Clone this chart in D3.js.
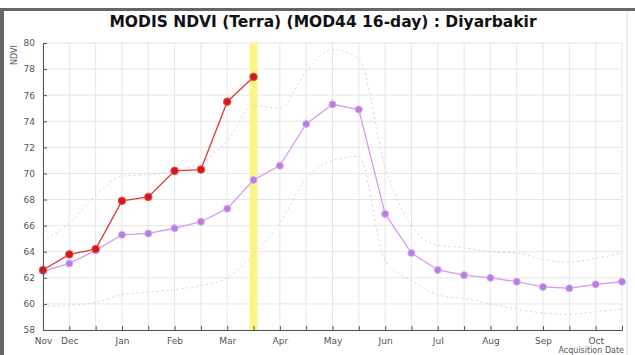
<!DOCTYPE html>
<html><head><meta charset="utf-8">
<script src="https://cdn.jsdelivr.net/npm/d3@7"></script>
<style>body{margin:0;background:#fff}svg{display:block}</style>
</head><body><svg id="c" width="635" height="355"></svg>
<script>
// 23 sixteen-day composites, Nov -> Oct
const composites = d3.range(23);
const monthLabels = ["Nov","Dec","","Jan","","Feb","","Mar","","Apr","","May","","Jun","","Jul","","Aug","","Sep","","Oct",""];
const currentYear = [62.6,63.8,64.2,67.9,68.2,70.2,70.3,75.5,77.4];
const meanNdvi = [62.5,63.1,64.1,65.3,65.4,65.8,66.3,67.3,69.5,70.6,73.8,75.3,74.9,66.9,63.9,62.6,62.2,62.0,61.7,61.3,61.2,61.5,61.7];
const upperBand = [64.8,66.2,68.3,69.8,69.9,70.2,70.8,72.5,75.2,75.0,77.8,79.5,78.8,70.5,66.0,64.5,64.3,64.0,63.9,63.4,63.2,63.5,63.9];
const lowerBand = [59.8,59.9,60.1,60.7,60.9,61.1,61.4,62.0,63.8,66.2,69.6,71.0,71.3,63.3,61.8,60.7,60.4,60.0,59.6,59.3,59.2,59.4,59.6];
const yTicks = [58,60,62,64,66,68,70,72,74,76,78,80];
const highlightIndex = 8;

const svg = d3.select("#c");
const x = d3.scaleLinear().domain([0,22]).range([43,622]);
const y = d3.scaleLinear().domain([58,80]).range([330,43]);

// frame
svg.append("rect").attr("x",0).attr("y",8).attr("width",635).attr("height",3).attr("fill","#666");
svg.append("rect").attr("x",0).attr("y",8).attr("width",4).attr("height",347).attr("fill","#666");
svg.append("line").attr("x1",627).attr("x2",627).attr("y1",11).attr("y2",355).attr("stroke","#ddd");

// title
svg.append("text").attr("x",323).attr("y",27).attr("text-anchor","middle")
  .attr("font-family","DejaVu Sans").attr("font-weight","bold").attr("font-size",15.5)
  .attr("fill","#111").text("MODIS NDVI (Terra) (MOD44 16-day) : Diyarbakir");

// grid
const g = svg.append("g");
g.selectAll(".vg").data(composites).join("line")
  .attr("x1",d=>x(d)).attr("x2",d=>x(d)).attr("y1",y(80)).attr("y2",y(58))
  .attr("stroke","#e6e6e6").attr("stroke-width",1);
g.selectAll(".hg").data(yTicks).join("line")
  .attr("x1",x(0)).attr("x2",x(22)).attr("y1",d=>y(d)).attr("y2",d=>y(d))
  .attr("stroke","#e6e6e6").attr("stroke-width",1);

// highlight bar
svg.append("rect").attr("x",x(highlightIndex)-4).attr("y",y(80)).attr("width",8)
  .attr("height",y(58)-y(80)).attr("fill","#f8f47a").attr("opacity",0.9);

// bands
const line = d3.line().x((d,i)=>x(i)).y(d=>y(d)).curve(d3.curveMonotoneX);
[upperBand,lowerBand].forEach(b=>{
  svg.append("path").attr("d",line(b)).attr("fill","none")
    .attr("stroke","#e8c6e6").attr("stroke-width",1).attr("stroke-dasharray","2,3");
});

// mean series
const lin = d3.line().x((d,i)=>x(i)).y(d=>y(d));
svg.append("path").attr("d",lin(meanNdvi)).attr("fill","none").attr("stroke","#d69cf0").attr("stroke-width",1.3);
svg.selectAll(".mp").data(meanNdvi).join("circle")
  .attr("cx",(d,i)=>x(i)).attr("cy",d=>y(d)).attr("r",3.5)
  .attr("fill","#b57ee0").attr("stroke","#d9a8f5").attr("stroke-width",1);

// current year
svg.append("path").attr("d",lin(currentYear)).attr("fill","none").attr("stroke","#e23a3a").attr("stroke-width",1.3);
svg.selectAll(".cp").data(currentYear).join("circle")
  .attr("cx",(d,i)=>x(i)).attr("cy",d=>y(d)).attr("r",3.8)
  .attr("fill","#d21818").attr("stroke","#ee5555").attr("stroke-width",1);

// axes
const yAxis = d3.axisLeft(y).tickValues(yTicks).tickSize(-4).tickPadding(8).tickFormat(d3.format("d"));
const ya = svg.append("g").attr("transform",`translate(${x(0)},0)`).call(yAxis);
const xAxis = d3.axisBottom(x).tickValues(composites).tickSize(-4).tickPadding(8).tickFormat(i=>monthLabels[i]);
const xa = svg.append("g").attr("transform",`translate(0,${y(58)})`).call(xAxis);
[ya,xa].forEach(a=>{
  a.select(".domain").attr("stroke","#555");
  a.selectAll(".tick line").attr("stroke","#555");
  a.selectAll("text").attr("font-family","DejaVu Sans").attr("font-size",9).attr("fill","#555");
});

svg.append("text").attr("transform","translate(17,55) rotate(-90)").attr("text-anchor","middle")
  .attr("font-family","DejaVu Sans").attr("font-size",8).attr("fill","#555").text("NDVI");
svg.append("text").attr("x",624).attr("y",353).attr("text-anchor","end")
  .attr("font-family","DejaVu Sans").attr("font-size",8).attr("fill","#555").text("Acquisition Date");
</script></body></html>
